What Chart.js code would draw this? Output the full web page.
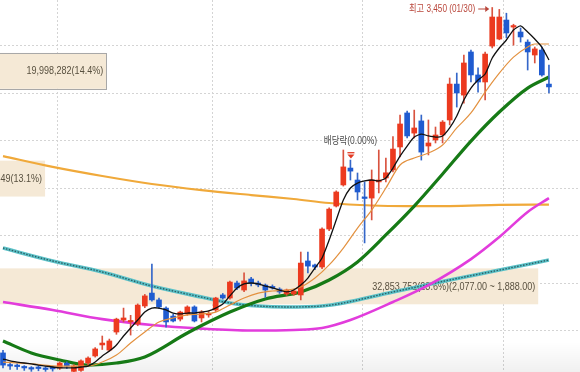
<!DOCTYPE html>
<html><head><meta charset="utf-8">
<script src="https://cdn.jsdelivr.net/npm/chart.js@4/dist/chart.umd.min.js"></script>
<style>html,body{margin:0;padding:0;background:#fff;overflow:hidden}canvas{display:block}</style>
</head><body>
<canvas id="c" width="580" height="372"></canvas>
<script>
// ---- candle data (daily, index 0..77) ----
const candleOpen  = [1632,1568,1565,1558,1552,1553,1550,1552,1553,1578,1535,1540,1579,1616,1674,1647,1742,1805,1795,1784,1879,1947,1911,1868,1826,1810,1837,1874,1816,1832,1858,1937,1921,2000,1963,2021,2000,1989,1980,1968,1942,1942,1937,2116,2095,2084,2284,2405,2516,2605,2542,2450,2447,2532,2553,2595,2716,2895,2789,2853,2721,2753,2779,2858,3047,2989,3216,3095,3058,3247,3284,3384,3347,3321,3268,3200,3226,3047];
const candleHigh  = [1645,1580,1575,1565,1560,1565,1560,1562,1585,1585,1570,1595,1612,1660,1721,1705,1815,1868,1830,1890,1940,2100,1920,1875,1835,1852,1880,1880,1855,1850,1925,1945,2010,2010,2053,2030,2010,1995,1990,1975,1968,1965,2163,2163,2100,2290,2395,2485,2700,2647,2579,2532,2595,2700,2658,2770,2884,2905,2910,2884,2858,2821,2855,3079,3105,3200,3226,3132,3216,3450,3440,3420,3362,3342,3280,3242,3242,3147];
const candleLow   = [1553,1545,1545,1540,1535,1538,1535,1536,1545,1550,1530,1535,1570,1610,1650,1640,1730,1795,1726,1775,1870,1905,1865,1768,1795,1800,1830,1795,1795,1820,1850,1915,1915,1965,1955,1985,1980,1925,1968,1945,1935,1935,1911,2053,2070,2075,2275,2400,2510,2542,2437,2211,2332,2474,2532,2585,2663,2763,2763,2647,2674,2737,2737,2832,2926,2947,3058,3005,2963,3237,3280,3290,3252,3268,3121,3158,3089,3000];
const candleClose = [1568,1563,1560,1553,1547,1550,1545,1548,1579,1563,1563,1590,1605,1653,1684,1695,1810,1816,1798,1884,1932,1911,1874,1795,1800,1847,1874,1800,1847,1837,1921,1921,2005,1974,2011,2000,1990,1963,1974,1953,1963,1958,2105,2089,2084,2284,2389,2479,2611,2589,2479,2445,2542,2542,2580,2705,2837,2774,2816,2689,2737,2779,2847,3047,3000,3158,3095,3058,3205,3400,3400,3316,3352,3295,3216,3232,3095,3032];

// ---- moving averages (index positions) ----
const ma5Values = [1600,1590,1584,1579,1574,1568,1563,1558,1553,1553,1553,1558,1563,1584,1616,1642,1674,1721,1763,1805,1847,1868,1868,1858,1842,1837,1842,1842,1847,1853,1868,1889,1932,1974,1995,2000,1995,1984,1974,1963,1953,1963,1989,2026,2079,2132,2226,2332,2437,2500,2526,2537,2542,2537,2553,2605,2668,2721,2768,2784,2774,2768,2774,2816,2879,2963,3026,3068,3100,3184,3237,3279,3332,3353,3321,3284,3242,3174];
const ma10Index  = [0,4,8,12,14,16,18,20,22,24,26,28,30,32,34,36,38,40,42,44,46,48,50,52,54,56,58,60,62,64,66,68,70,72,74,75,76,77];
const ma10Values = [1584,1574,1563,1563,1584,1621,1684,1742,1795,1816,1832,1837,1847,1884,1921,1947,1958,1963,1979,2026,2095,2184,2289,2384,2500,2621,2658,2684,2726,2816,2895,3005,3105,3189,3242,3258,3258,3258];
const ma20Index  = [0,4,8,12,16,20,26,32,37,42,46,50,54,58,62,66,70,74,77];
const ma20Values = [1695,1632,1595,1568,1579,1611,1737,1847,1916,1953,2016,2111,2253,2405,2574,2747,2900,3026,3084];
const ma60Index  = [0,7,14,21,28,35,41,45,49,55,60,66,70,74,77];
const ma60Values = [1900,1858,1810,1779,1760,1750,1753,1763,1805,1900,1989,2126,2242,2374,2447];
const ma120Index  = [0,7,14,21,28,35,41,46,52,57,63,70,77];
const ma120Values = [2668,2611,2563,2521,2489,2463,2442,2421,2408,2405,2405,2411,2413];
const ma240Index  = [0,7,14,21,28,32,36,40,45,55,63,70,77];
const ma240Values = [2184,2116,2058,1984,1926,1895,1879,1874,1879,1953,2016,2068,2121];

// ---- volume-by-price bands ----
const bandLow    = [1888, 2455, 3022];
const bandHigh   = [2077, 2644, 3211];
const bandPct    = [23.6, 13.1, 14.4];
const bandLabels = ['32,853,752(23.6%)(2,077.00 ~ 1,888.00)', '18,196,349(13.1%)', '19,998,282(14.4%)'];

// ---- grid / markers ----
const yGridTicks  = [1750, 2000, 2250, 2500, 2750, 3000, 3250];
const monthBreaks = [7.7, 29.5, 50.7, 70.6];
const highIndex = 69, highValue = 3450, highDate = '01/30';
const exDivIndex = 49, exDivLabel = '배당락(0.00%)';

const RED = '#ec3a1f', BLUE = '#1f5bd0';
const up = candleOpen.map((o,i)=>candleClose[i] >= o);
const bodyColors = up.map(u => u ? RED : BLUE);
const wickColors = up.map(u => u ? '#d9533f' : '#3567c9');
const toXY = (idx, vals) => idx.map((x,k)=>({x, y: vals[k]}));

function condensedText(ctx, txt, x, y, squeeze) {
  const w = ctx.measureText(txt).width;
  ctx.fillText(txt, x, y, w * squeeze);
}

const bandPlugin = {
  id: 'bands',
  beforeDatasetsDraw(chart) {
    const {ctx, scales:{y, xv}} = chart;
    const last = candleClose[candleClose.length-1];
    ctx.save();
    bandLow.forEach((lo,k)=>{
      const x0 = xv.getPixelForValue(0), x1 = xv.getPixelForValue(bandPct[k]);
      const yt = y.getPixelForValue(bandHigh[k]), yb = y.getPixelForValue(lo);
      ctx.fillStyle = '#f5e9d6';
      ctx.fillRect(x0, yt, x1-x0, yb-yt);
      if (last >= lo && last < bandHigh[k]) {
        ctx.strokeStyle = '#a8a8a8'; ctx.lineWidth = 1;
        ctx.strokeRect(Math.round(x0)+0.5, Math.round(yt)+0.5, Math.round(x1-x0), Math.round(yb-yt));
      }
      ctx.fillStyle = '#58503f';
      ctx.font = '10px "Liberation Sans", Arial, sans-serif';
      ctx.textAlign = 'right'; ctx.textBaseline = 'middle';
      condensedText(ctx, bandLabels[k], x1-3, (yt+yb)/2+0.5, 0.9);
    });
    // faint shade along the bottom edge
    const ca = chart.chartArea;
    const g = ctx.createLinearGradient(0, ca.bottom-30, 0, ca.bottom);
    g.addColorStop(0, 'rgba(0,0,0,0)'); g.addColorStop(1, 'rgba(0,0,0,0.06)');
    ctx.fillStyle = g; ctx.fillRect(ca.left, ca.bottom-30, ca.right-ca.left, 30);
    ctx.restore();
  },
  afterDatasetsDraw(chart) {
    const {ctx, scales:{x, y}} = chart;
    ctx.save();
    const hx = x.getPixelForValue(highIndex), hy = y.getPixelForValue(highValue);
    ctx.fillStyle = '#b9463b'; ctx.strokeStyle = '#b9463b';
    ctx.font = '10px "Liberation Sans", "Noto Sans CJK KR", sans-serif';
    ctx.textAlign = 'right'; ctx.textBaseline = 'middle';
    condensedText(ctx, '최고 ' + highValue.toLocaleString('en-US') + ' (' + highDate + ')', hx-17, hy+1.5, 0.82);
    ctx.lineWidth = 1;
    ctx.beginPath(); ctx.moveTo(hx-14, hy+1.5); ctx.lineTo(hx-4, hy+1.5); ctx.stroke();
    ctx.beginPath(); ctx.moveTo(hx-3, hy+1.5); ctx.lineTo(hx-7, hy-1.5); ctx.lineTo(hx-7, hy+4.5); ctx.closePath(); ctx.fill();
    const ex = x.getPixelForValue(exDivIndex), ey = y.getPixelForValue(candleHigh[exDivIndex]);
    ctx.fillStyle = '#e23a22';
    ctx.fillRect(ex-3, ey-8, 7, 1.3);
    ctx.beginPath(); ctx.moveTo(ex-3, ey-5.5); ctx.lineTo(ex+4, ey-5.5); ctx.lineTo(ex+0.5, ey-1.5); ctx.closePath(); ctx.fill();
    ctx.fillStyle = '#4a4a4a';
    ctx.font = '10px "Liberation Sans", "Noto Sans CJK KR", sans-serif';
    ctx.textAlign = 'center';
    condensedText(ctx, exDivLabel, ex, ey-19, 0.85);
    ctx.restore();
  }
};

const lineDs = (data, color, width, order, extra={}) => Object.assign({
  type:'line', data, borderColor: color, borderWidth: width, pointRadius: 0,
  cubicInterpolationMode: 'monotone', fill: false, order, xAxisID:'x', yAxisID:'y'
}, extra);

new Chart(document.getElementById('c'), {
  type: 'bar',
  data: {
    datasets: [
      lineDs(ma5Values.map((v,i)=>({x:i,y:v})), '#111111', 1.3, 0, {cubicInterpolationMode:'default', tension:0.2}),
      lineDs(toXY(ma10Index, ma10Values), '#e3913f', 1.2, 1),
      { type:'bar', data: candleOpen.map((o,i)=>({x:i, y:[o, candleClose[i]]})), backgroundColor: bodyColors,
        barThickness: 5, minBarLength: 1.5, grouped:false, order: 2, xAxisID:'x', yAxisID:'y' },
      { type:'bar', data: candleLow.map((l,i)=>({x:i, y:[l, candleHigh[i]]})), backgroundColor: wickColors,
        barThickness: 1, grouped:false, order: 3, xAxisID:'x', yAxisID:'y' },
      lineDs(toXY(ma20Index, ma20Values), '#167a16', 3.2, 4),
      lineDs(toXY(ma60Index, ma60Values), '#e23cdc', 2.6, 5),
      lineDs(toXY(ma120Index, ma120Values), '#f0a93a', 2.2, 6),
      lineDs(toXY(ma240Index, ma240Values), '#2c5f66', 1.4, 7, {borderDash:[1.5,1.5]}),
      lineDs(toXY(ma240Index, ma240Values), '#5cc2c8', 3.6, 8)
    ]
  },
  options: {
    responsive: false, animation: false, devicePixelRatio: 1, events: [],
    layout: { padding: 0 },
    plugins: { legend: {display:false}, tooltip: {enabled:false} },
    scales: {
      x: { type:'linear', min: -0.423, max: 81.38, offset:false,
           afterBuildTicks: s => { s.ticks = monthBreaks.map(v=>({value:v})); },
           ticks: {display:false}, grid: {color:'#d4d4d4', lineWidth:1, drawTicks:false, offset:false},
           border: {display:false, dash:[2,2]} },
      y: { type:'linear', min: 1531.6, max: 3489.5,
           afterBuildTicks: s => { s.ticks = yGridTicks.map(v=>({value:v})); },
           ticks: {display:false}, grid: {color:'#d4d4d4', lineWidth:1, drawTicks:false, offset:false},
           border: {display:false, dash:[2,2]} },
      xv: { type:'linear', display:false, offset:false, grid:{offset:false}, min: 12.14, max: 24.49 }
    }
  },
  plugins: [bandPlugin]
});
</script>
</body></html>
